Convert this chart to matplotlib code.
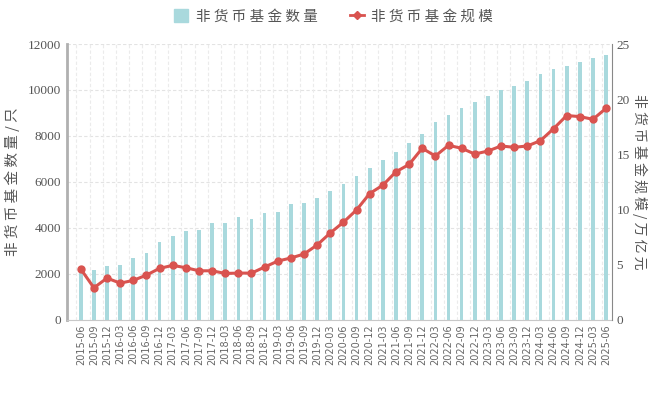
import numpy as np
import matplotlib
matplotlib.use("Agg")
import matplotlib.pyplot as plt
from matplotlib.lines import Line2D
from matplotlib.patches import Patch

plt.rcParams['font.family'] = ['Noto Sans CJK SC', 'DejaVu Sans']

quarters = []
for ano in range(2015, 2026):
    for mes in ["03", "06", "09", "12"]:
        quarters.append("%d-%s" % (ano, mes))
quarters = quarters[1:-2]  # 2015-06 .. 2025-06

fund_count = [2250, 2153, 2327, 2371, 2705, 2909, 3404, 3636, 3884, 3927,
              4204, 4204, 4480, 4378, 4655, 4698, 5033, 5091, 5295, 5600,
              5920, 6254, 6604, 6938, 7302, 7695, 8102, 8625, 8902, 9207,
              9469, 9745, 9993, 10182, 10385, 10676, 10895, 11055, 11200,
              11389, 11505]

fund_scale = [4.61, 2.91, 3.79, 3.33, 3.58, 4.06, 4.67, 4.94, 4.73, 4.45,
              4.45, 4.21, 4.24, 4.24, 4.79, 5.33, 5.61, 5.97, 6.79, 7.88,
              8.85, 9.97, 11.45, 12.21, 13.42, 14.09, 15.55, 14.85, 15.82,
              15.55, 15.03, 15.30, 15.76, 15.64, 15.76, 16.24, 17.33, 18.52,
              18.42, 18.18, 19.18]

cor_barra = "#a9d9dd"
cor_linha = "#d9534f"
cor_texto = "#555555"

def espacar(texto):
    return " ".join(texto)

fig = plt.figure(figsize=(6.54, 3.93), dpi=100)
ax1 = fig.add_axes([0.102, 0.186, 0.834, 0.702])
x = np.arange(len(quarters))

ax1.bar(x, fund_count, width=0.28, color=cor_barra, zorder=2)
ax1.set_ylim(0, 12000)
ax1.set_yticks(range(0, 12001, 2000))
ax1.set_xlim(-1.07, len(quarters) - 0.54)
ax1.set_xticks(x)
ax1.set_xticklabels(quarters, rotation=90, fontsize=7, color="#666666",
                    family="DejaVu Sans")
ax1.tick_params(axis="x", length=0, pad=3)
ax1.tick_params(axis="y", length=0, pad=4, labelsize=9.5, labelcolor=cor_texto)
for tl in ax1.get_yticklabels():
    tl.set_family("Liberation Serif")
ax1.set_ylabel(espacar("非货币基金数量/只"), fontsize=10.5, color=cor_texto,
               labelpad=6)

# grade tracejada
for v in range(0, 12001, 2000):
    ax1.axhline(v, color="#e3e3e3", lw=0.8, ls=(0, (3, 2)), zorder=0)
for xi in x:
    ax1.axvline(xi - 0.33, color="#ebebeb", lw=0.8, ls=(0, (3, 2)), zorder=0)

for lado in ["top", "right"]:
    ax1.spines[lado].set_visible(False)
ax1.spines["left"].set_color("#b0b0b0")
ax1.spines["left"].set_linewidth(2)
ax1.spines["bottom"].set_color("#c8c8c8")

ax2 = ax1.twinx()
ax2.plot(x, fund_scale, "-o", color=cor_linha, lw=2.2, ms=5, zorder=3)
ax2.set_ylim(0, 25)
ax2.set_yticks(range(0, 26, 5))
ax2.tick_params(axis="y", length=0, pad=3, labelsize=9.5, labelcolor=cor_texto)
for tl in ax2.get_yticklabels():
    tl.set_family("Liberation Serif")
ax2.set_ylabel(espacar("非货币基金规模/万亿元"), fontsize=10, color=cor_texto,
               rotation=-90, labelpad=13)
for lado in ["top", "left", "bottom"]:
    ax2.spines[lado].set_visible(False)
ax2.spines["right"].set_color("#888888")

handles = [Patch(color=cor_barra),
           Line2D([], [], color=cor_linha, marker="D", ms=4, lw=2)]
fig.legend(handles, [espacar("非货币基金数量"), espacar("非货币基金规模")],
           loc="center", bbox_to_anchor=(0.51, 0.958), ncol=2, frameon=False,
           fontsize=10.5, handlelength=1.0, handleheight=1.0,
           columnspacing=2.2, handletextpad=0.5, labelcolor=cor_texto)

fig.savefig("out.png", dpi=100)
